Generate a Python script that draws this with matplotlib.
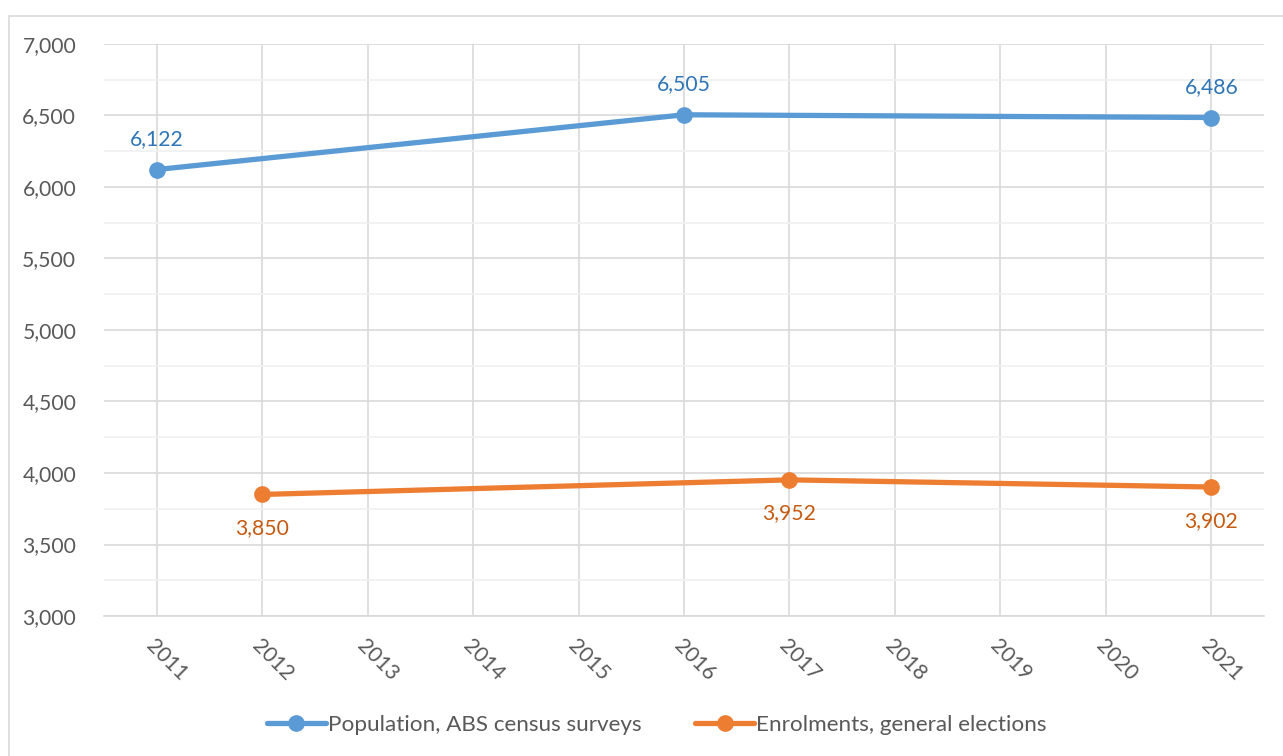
import numpy as np
import matplotlib.pyplot as plt
from matplotlib.ticker import MultipleLocator, FuncFormatter
from matplotlib.patches import Rectangle

plt.rcParams['font.family'] = ['Lato', 'DejaVu Sans']

# data
years = ['2011', '2012', '2013', '2014', '2015', '2016', '2017', '2018', '2019', '2020', '2021']
pop_years = ['2011', '2016', '2021']
pop_values = [6122, 6505, 6486]
enr_years = ['2012', '2017', '2021']
enr_values = [3850, 3952, 3902]

blue = '#5B9BD5'
orange = '#ED7D31'
grey_txt = '#595959'
fs = 15.2

fig = plt.figure(figsize=(12.83, 7.56), dpi=100)
# chart area frame
fig.patches.append(Rectangle((9 / 1283, -0.1), 1.2, 1 - 16 / 756 + 0.1,
                             transform=fig.transFigure, fill=False,
                             edgecolor='#D9D9D9', linewidth=1.2))

ax = fig.add_axes([104 / 1283, 1 - 616 / 756, 1160 / 1283, 572 / 756])

xpos = {y: i for i, y in enumerate(years)}
px = [xpos[y] for y in pop_years]
ex = [xpos[y] for y in enr_years]

ax.plot(px, pop_values, color=blue, lw=3.8, marker='o', ms=11,
        solid_capstyle='round', label='Population, ABS census surveys', zorder=3)
ax.plot(ex, enr_values, color=orange, lw=3.8, marker='o', ms=11,
        solid_capstyle='round', label='Enrolments, general elections', zorder=3)

for x, v in zip(px, pop_values):
    ax.annotate(f'{v:,}', (x, v), xytext=(0, 15), textcoords='offset points',
                ha='center', va='bottom', color='#2E75B6', fontsize=fs)
for x, v in zip(ex, enr_values):
    ax.annotate(f'{v:,}', (x, v), xytext=(0, -17), textcoords='offset points',
                ha='center', va='top', color='#C55A11', fontsize=fs)

ax.set_xlim(-0.5, len(years) - 0.5)
ax.set_ylim(3000, 7000)
ax.yaxis.set_major_locator(MultipleLocator(500))
ax.yaxis.set_minor_locator(MultipleLocator(250))
ax.yaxis.set_major_formatter(FuncFormatter(lambda v, p: f'{int(v):,}'))
ax.set_xticks(range(len(years)))
ax.set_xticklabels(years, rotation=-45, ha='left', va='top', rotation_mode='anchor')

ax.grid(which='major', axis='both', color='#D9D9D9', lw=1.2)
ax.grid(which='minor', axis='y', color='#F0F0F0', lw=1.2)
ax.set_axisbelow(True)

for s in ['top', 'right', 'left']:
    ax.spines[s].set_visible(False)
ax.spines['bottom'].set_color('#D9D9D9')
ax.spines['bottom'].set_linewidth(1.2)
ax.tick_params(axis='both', which='both', length=0, colors=grey_txt, labelsize=fs)
ax.tick_params(axis='y', pad=20)
ax.tick_params(axis='x', pad=14)

leg = fig.legend(loc='center', bbox_to_anchor=(0.512, 1 - 725 / 756), ncol=2,
                 frameon=False, fontsize=16.2, handlelength=2.6, handletextpad=0.1,
                 columnspacing=2.4)
for t in leg.get_texts():
    t.set_color(grey_txt)

fig.savefig('out.png', dpi=100)
